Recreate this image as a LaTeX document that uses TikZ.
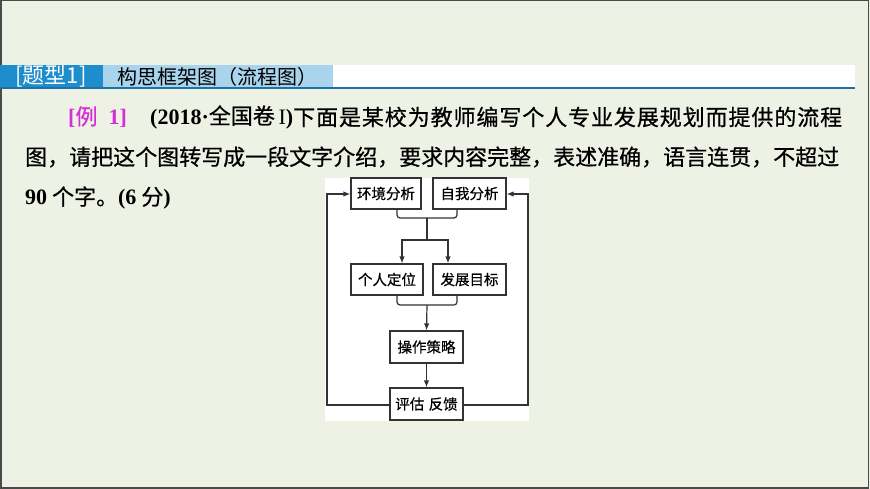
\documentclass[tikz,border=0pt]{standalone}
\usepackage{fontspec}
\setmainfont{Liberation Serif}
\newfontfamily\cjk{Noto Sans CJK SC}
\newfontfamily\cjkb[FakeBold=0.6]{Noto Sans CJK SC}
\usetikzlibrary{arrows.meta}
\definecolor{slidebg}{HTML}{EDF2E4}
\definecolor{slideborder}{HTML}{4A4A4A}
\definecolor{hdblue}{HTML}{1E8DCC}
\definecolor{hdlight}{HTML}{A9D4EE}
\definecolor{hdline}{HTML}{1C72A6}
\definecolor{exmag}{HTML}{D62ED6}
\definecolor{flowline}{HTML}{333333}
\newcommand\bodyfont{\fontsize{22pt}{26pt}\selectfont}
\newcommand\lt[1]{{\rmfamily\bfseries #1}}
\newcommand\jf{\hfil}
\tikzset{
  bodytext/.style={inner sep=0pt, anchor=west, font=\bodyfont\cjkb},
  flowbox/.style={draw=flowline, line width=1.2pt, fill=white, inner sep=0pt,
    minimum height=31pt, font=\fontsize{14.5pt}{16pt}\selectfont\cjkb},
  flowline/.style={draw=flowline, line width=1.2pt},
  flowarrow/.style={flowline, -{Latex[length=7pt,width=5.5pt]}},
}
\begin{document}
\begin{tikzpicture}[x=1pt,y=-1pt]
\useasboundingbox (0,0) rectangle (870,489);
% slide
\fill[slidebg] (0,0) rectangle (870,489);
\draw[slideborder, line width=1.5pt] (0.75,0.75) rectangle (868.5,488);
% header bar
\fill[white] (0,65) rectangle (855,88);
\fill[hdblue] (0,65) rectangle (103,88);
\fill[hdlight] (103,65) rectangle (333,88);
\draw[hdline, line width=1.5pt] (0,88) -- (855,88);
\node[inner sep=0pt, text=white, font=\fontsize{22pt}{24pt}\selectfont\cjk] (tag) at (51,76.5) {[题型1]};
\node[inner sep=0pt, anchor=west, font=\fontsize{20pt}{24pt}\selectfont\cjk] (title) at (117,76.5) {构思框架图（流程图）};
% body text
\node[bodytext, text=exmag] (ex) at (68,117) {\lt{[}例\hspace{0.5em}\lt{1]}};
\node[bodytext] (l1a) at (150,117) {\lt{(2018·}全国卷\,{\rmfamily I}\lt{)}};
\node[bodytext] (l1b) at (293,117) {\makebox[549pt][s]{下\jf 面\jf 是\jf 某\jf 校\jf 为\jf 教\jf 师\jf 编\jf 写\jf 个\jf 人\jf 专\jf 业\jf 发\jf 展\jf 规\jf 划\jf 而\jf 提\jf 供\jf 的\jf 流\jf 程}};
\node[bodytext] (l2) at (25,157) {图，请把这个图转写成一段文字介绍，要求内容完整，表述准确，语言连贯，不超过};
\node[bodytext] (l3) at (25,198) {\lt{90} 个字。\lt{(6} 分\lt{)}};
% flowchart background
\fill[white] (325,178) rectangle (529,421);
% boxes
\node[flowbox, minimum width=70pt] (env) at (386,193.5) {环境分析};
\node[flowbox, minimum width=73pt] (self) at (469.5,193.5) {自我分析};
\node[flowbox, minimum width=72pt] (pos) at (387,279.5) {个人定位};
\node[flowbox, minimum width=73pt] (goal) at (469.5,279.5) {发展目标};
\node[flowbox, minimum width=73pt, minimum height=32pt] (strat) at (426.5,347) {操作策略};
\node[flowbox, minimum width=73pt, minimum height=32pt] (eval) at (426.5,404) {评估\hspace{0.3em}反馈};
% junction coordinates
\coordinate (j1) at (427,218);
\coordinate (j1b) at (427,240);
\coordinate (j2) at (427,305);
\coordinate (loopL) at (327,405);
\coordinate (loopR) at (528,405);
% bracket 1
\draw[flowline, rounded corners=3pt] ([xshift=11pt]env.south) |- (j1) -| ([xshift=-12.5pt]self.south);
\draw[flowline] (j1) -- (j1b);
\draw[flowarrow] (j1b) -| ([xshift=15pt]pos.north);
\draw[flowarrow] (j1b) -| ([xshift=-21.5pt]goal.north);
% bracket 2
\draw[flowline, rounded corners=3pt] ([xshift=10pt]pos.south) |- (j2) -| ([xshift=-12.5pt]goal.south);
\draw[flowarrow] (j2) -- (strat.north);
\draw[flowarrow] (strat) -- (eval);
% feedback loops
\draw[flowarrow] ([yshift=-1pt]eval.west) -- (loopL) |- ([yshift=-0.5pt]env.west);
\draw[flowarrow] ([yshift=-1pt]eval.east) -- (loopR) |- ([yshift=-0.5pt]self.east);
\end{tikzpicture}
\end{document}
